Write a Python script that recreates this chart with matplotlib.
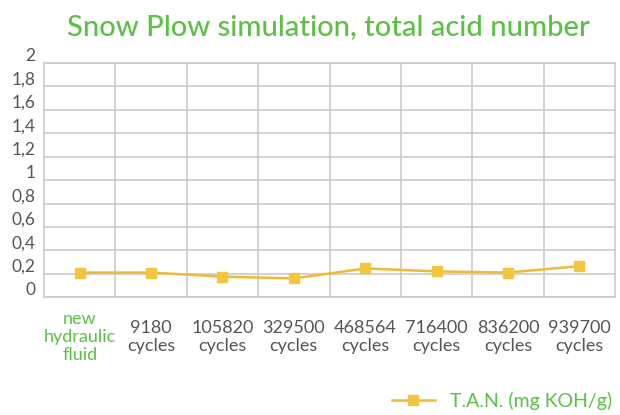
import matplotlib
matplotlib.use("Agg")
import matplotlib.pyplot as plt
import matplotlib.transforms as mtransforms
from matplotlib.lines import Line2D

# ---- data ----
categories = ["new\nhydraulic\nfluid", "9180\ncycles", "105820\ncycles", "329500\ncycles",
              "468564\ncycles", "716400\ncycles", "836200\ncycles", "939700\ncycles"]
tan_values = [0.21, 0.21, 0.175, 0.16, 0.245, 0.22, 0.21, 0.265]
y_ticks = [0, 0.2, 0.4, 0.6, 0.8, 1, 1.2, 1.4, 1.6, 1.8, 2]
y_labels = ["0", "0,2", "0,4", "0,6", "0,8", "1", "1,2", "1,4", "1,6", "1,8", "2"]

GREEN = "#5cbf46"
GREY_TXT = "#555555"
YELLOW = "#f3c63f"
LINE = "#f0b93a"

plt.rcParams["font.family"] = ["Lato", "DejaVu Sans"]

fig = plt.figure(figsize=(6.2, 4.15), dpi=100)
ax = fig.add_axes([0.071, 0.284, 0.921, 0.564])

x = range(len(categories))
ax.plot(x, tan_values, color=LINE, lw=1.8, marker="s", ms=7,
        markerfacecolor=YELLOW, markeredgecolor=YELLOW, zorder=3)

ax.set_xlim(-0.5, len(categories) - 0.5)
ax.set_ylim(0, 2)
ax.set_yticks(y_ticks)
ax.set_yticklabels(y_labels, fontsize=12.5, color=GREY_TXT)
ax.set_xticks([i + 0.5 for i in range(len(categories) - 1)])
ax.set_xticklabels([])
ax.tick_params(length=0, pad=6)
ax.grid(True, color="#c9cccc", lw=1.2)
for s in ax.spines.values():
    s.set_color("#c9cccc")
    s.set_linewidth(1.2)

# y labels sit a little above their gridlines
offset = mtransforms.ScaledTranslation(0, 6 / 72, fig.dpi_scale_trans)
for lab in ax.get_yticklabels():
    lab.set_transform(lab.get_transform() + offset)

for i, c in enumerate(categories):
    ax.text(i, -0.34, c, transform=ax.transData,
            ha="center", va="center", multialignment="center", fontsize=13,
            color=GREEN if i == 0 else GREY_TXT,
            linespacing=1.15, clip_on=False)

fig.text(0.53, 0.935, "Snow Plow simulation, total acid number", ha="center", va="center",
         fontsize=21, color=GREEN, fontweight="medium")

h = Line2D([], [], color=LINE, lw=1.8, marker="s", ms=7,
           markerfacecolor=YELLOW, markeredgecolor=YELLOW)
fig.legend([h], ["T.A.N. (mg KOH/g)"], loc="center", bbox_to_anchor=(0.81, 0.035),
           frameon=False, prop={"size": 14}, labelcolor=GREEN,
           handlelength=2.2)

fig.savefig("out.png", dpi=100)
